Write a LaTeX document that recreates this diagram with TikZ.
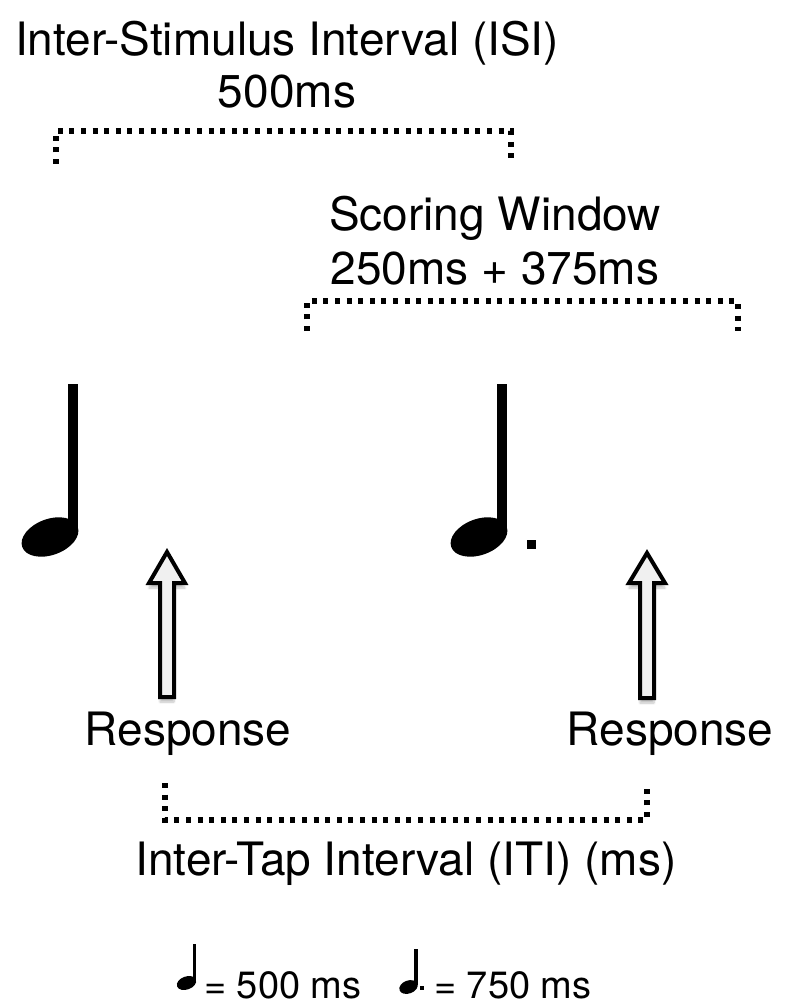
\documentclass[tikz,border=0pt]{standalone}
\usepackage{fontspec}
\setmainfont{TeX Gyre Heros}
\usetikzlibrary{shadows.blur}
\tikzset{
  lbl/.style={inner sep=0pt, anchor=base, font=\fontsize{46}{55}\selectfont},
  leg/.style={inner sep=0pt, anchor=base west, font=\fontsize{38}{45}\selectfont},
  bracketline/.style={line width=5.5pt, dash pattern=on 5pt off 6.6pt, black},
  resparrow/.style={draw=black, line width=4pt, line join=miter, fill=gray!12,
    blur shadow={shadow xshift=0pt, shadow yshift=-5pt, shadow opacity=25, shadow blur steps=6}},
  notefill/.style={fill=black}
}
\begin{document}
\begin{tikzpicture}[x=1pt, y=-1pt]
\useasboundingbox (0,0) rectangle (787,1008);
% texts
\node[lbl] (isi) at (287,56) {Inter-Stimulus Interval (ISI)};
\node[lbl] (isims) at (287,108) {500ms};
\node[lbl] (sw) at (495,231) {Scoring Window};
\node[lbl] (swms) at (495,284) {250ms + 375ms};
\node[lbl] (resp1) at (188,745) {Response};
\node[lbl] (resp2) at (670,745) {Response};
\node[lbl] (iti) at (406,875) {Inter-Tap Interval (ITI) (ms)};
% brackets
\coordinate (isiL) at (56,164);
\coordinate (isiTL) at (56,131);
\coordinate (isiTR) at (511,131);
\coordinate (isiR) at (511,162);
\draw[bracketline] (isiL) -- (isiTL) -- (isiTR) -- (isiR);
\coordinate (swL) at (307,331);
\coordinate (swTL) at (307,301);
\coordinate (swTR) at (738,301);
\coordinate (swR) at (738,331);
\draw[bracketline] (swL) -- (swTL) -- (swTR) -- (swR);
\coordinate (itiL) at (165,783);
\coordinate (itiBL) at (165,820);
\coordinate (itiBR) at (647,820);
\coordinate (itiR) at (647,783);
\draw[bracketline] (itiL) -- (itiBL) -- (itiBR) -- (itiR);
% big notes
\fill[notefill] (68,384) rectangle (78,528);
\fill[notefill, rotate around={20:(50,537)}] (50,537) ellipse (29.5 and 18);
\fill[notefill] (497,384) rectangle (507,528);
\fill[notefill, rotate around={20:(479,537)}] (479,537) ellipse (29.5 and 18);
\fill[notefill] (527,540) rectangle (536,549);
% response arrows
\path[resparrow] (167,552) -- (185,583) -- (174,583) -- (174,697) -- (160,697) -- (160,583) -- (149,583) -- cycle;
\path[resparrow] (647,553) -- (665,583) -- (654,583) -- (654,698) -- (640,698) -- (640,583) -- (629,583) -- cycle;
% legend
\fill[notefill] (192.5,944) rectangle (196,982);
\fill[notefill, rotate around={20:(186.5,983)}] (186.5,983) ellipse (10 and 6.5);
\node[leg] (leg1) at (204,998) {= 500 ms};
\fill[notefill] (414,949) rectangle (417.5,985);
\fill[notefill, rotate around={20:(408.5,987)}] (408.5,987) ellipse (9.5 and 6.5);
\fill[notefill] (419.5,986) rectangle (423.5,990);
\node[leg] (leg2) at (434,998) {= 750 ms};
\end{tikzpicture}
\end{document}
